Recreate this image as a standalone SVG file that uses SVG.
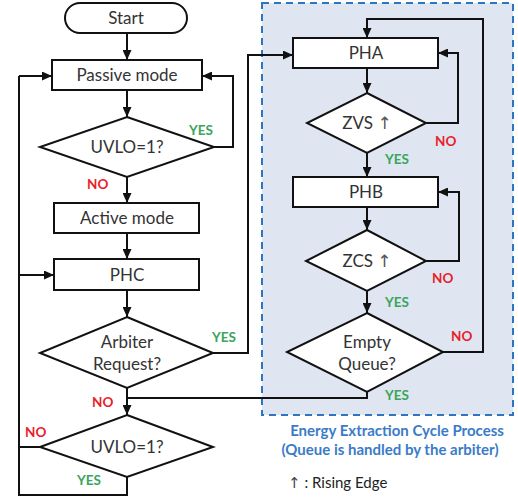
<svg xmlns="http://www.w3.org/2000/svg" width="518" height="499" viewBox="0 0 518 499">
<defs>
<marker id="arr" markerUnits="userSpaceOnUse" markerWidth="10" markerHeight="9" refX="10" refY="4.5" orient="auto">
<path d="M0,0 L10,4.5 L0,9 z" fill="#111"/>
</marker>
<style>
.n{fill:#fff;stroke:#111;stroke-width:2}
.t{font-family:Lato,"Liberation Sans",sans-serif;font-size:17px;fill:#333;text-anchor:middle}
.up{font-family:"DejaVu Sans",sans-serif;font-weight:normal;fill:#555}
.c{fill:none;stroke:#111;stroke-width:2}
.a{fill:none;stroke:#111;stroke-width:2;marker-end:url(#arr)}
.y{font-family:Lato,"Liberation Sans",sans-serif;font-size:13.5px;font-weight:bold;fill:#3aa55c}
.no{font-family:Lato,"Liberation Sans",sans-serif;font-size:13.5px;font-weight:bold;fill:#e8202a}
.cap{font-family:Lato,"Liberation Sans",sans-serif;font-size:15px;font-weight:bold;fill:#3a7bc8;text-anchor:middle}
</style>
</defs>
<rect x="0" y="0" width="518" height="499" fill="#fff"/>
<g id="cycle-box">
<rect x="262" y="3" width="251" height="412" fill="#dfe6f1" stroke="#2e75c0" stroke-width="2" stroke-dasharray="7 5"/>
</g>
<g id="connectors">
<path class="a" d="M127,33 V60"/>
<path class="a" d="M127,90 V117"/>
<path class="a" d="M214,147 H233 V76 H202"/>
<path class="a" d="M127,177 V203"/>
<path class="a" d="M127,233 V259"/>
<path class="a" d="M127,290 V317"/>
<path class="a" d="M213,353 H248 V55 H293"/>
<path class="a" d="M127,388 V415"/>
<path class="c" d="M40,447 H19"/>
<path class="c" d="M127,477 V495 H19 V76"/>
<path class="a" d="M19,76 H52"/>
<path class="a" d="M19,275 H54"/>
<path class="a" d="M443,352 H483 V19 H367 V38"/>
<path class="a" d="M367,68 V93"/>
<path class="a" d="M426,123 H458 V53 H438"/>
<path class="a" d="M367,153 V177"/>
<path class="a" d="M367,207 V230"/>
<path class="a" d="M426,261 H459 V192 H438"/>
<path class="a" d="M367,291 V313"/>
<path class="c" d="M367,392 V398 H127"/>
</g>
<g id="start"><rect class="n" x="65" y="3" width="122" height="30" rx="15"/><text class="t" x="126" y="24">Start</text></g>
<g id="passive"><rect class="n" x="52" y="60" width="150" height="30"/><text class="t" x="127" y="81">Passive mode</text></g>
<g id="uvlo1"><polygon class="n" points="127,117 214,147 127,177 40,147"/><text class="t" x="127" y="153">UVLO=1?</text></g>
<g id="active"><rect class="n" x="54" y="203" width="145" height="30"/><text class="t" x="127" y="224">Active mode</text></g>
<g id="phc"><rect class="n" x="54" y="259" width="145" height="31"/><text class="t" x="127" y="281">PHC</text></g>
<g id="arbiter"><polygon class="n" points="127,317 213,353 127,388 40,353"/><text class="t" x="127" y="348">Arbiter</text><text class="t" x="127" y="370">Request?</text></g>
<g id="uvlo2"><polygon class="n" points="127,415 213,447 127,477 40,447"/><text class="t" x="127" y="453">UVLO=1?</text></g>
<g id="pha"><rect class="n" x="293" y="38" width="145" height="30"/><text class="t" x="366" y="59">PHA</text></g>
<g id="zvs"><polygon class="n" points="367,93 426,123 367,153 307,123"/><text class="t" x="367" y="129">ZVS <tspan class="up">↑</tspan></text></g>
<g id="phb"><rect class="n" x="293" y="177" width="145" height="30"/><text class="t" x="366" y="198">PHB</text></g>
<g id="zcs"><polygon class="n" points="367,230 426,261 367,291 306,261"/><text class="t" x="367" y="267">ZCS <tspan class="up">↑</tspan></text></g>
<g id="empty"><polygon class="n" points="367,313 443,352 367,392 287,352"/><text class="t" x="367" y="348">Empty</text><text class="t" x="367" y="370">Queue?</text></g>
<g id="labels">
<text class="y" x="189" y="135">YES</text>
<text class="no" x="87" y="189">NO</text>
<text class="y" x="212" y="342">YES</text>
<text class="no" x="92" y="407">NO</text>
<text class="no" x="25" y="437">NO</text>
<text class="y" x="77" y="485">YES</text>
<text class="no" x="435" y="146">NO</text>
<text class="y" x="385" y="164">YES</text>
<text class="no" x="432" y="283">NO</text>
<text class="y" x="385" y="307">YES</text>
<text class="no" x="451" y="341">NO</text>
<text class="y" x="385" y="400">YES</text>
</g>
<g id="caption">
<text class="cap" x="397" y="436">Energy Extraction Cycle Process</text>
<text class="cap" x="390" y="455">(Queue is handled by the arbiter)</text>
<text x="288" y="488" font-family="Lato,'Liberation Sans',sans-serif" font-size="15" fill="#222"><tspan font-family="'DejaVu Sans',sans-serif" fill="#444">↑</tspan> : Rising Edge</text>
</g>
</svg>
